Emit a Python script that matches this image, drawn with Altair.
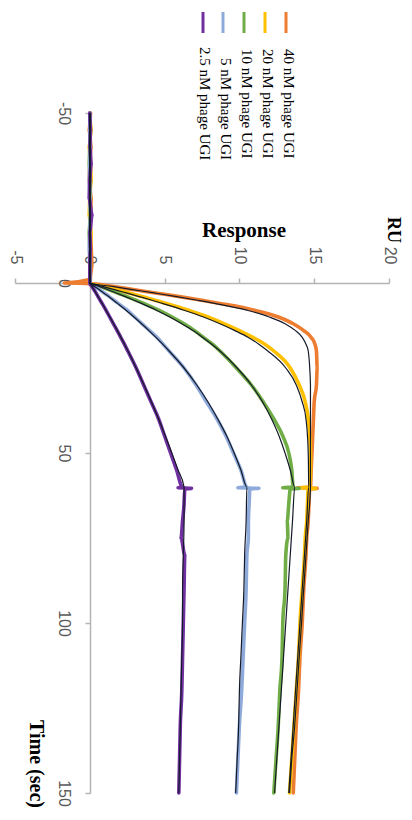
import altair as alt
import pandas as pd

# ---------------- data ----------------
series_names = ["40 nM phage UGI", "20 nM phage UGI", "10 nM phage UGI",
                "5 nM phage UGI", "2.5 nM phage UGI"]
series_colors = ["#ED7D31", "#FFC000", "#70AD47", "#8EAADB", "#7030A0"]

# measured sensorgram time points (sec)
time_data = [-50, -45, -40, -35, -30, -25, -20, -15, -10, -5, -1,
             0, 0.3,
             1, 2, 3, 4, 5, 6,
             8, 10, 12, 14, 16, 18, 20,
             25, 30, 35, 40, 45, 50, 55, 60,
             60.2, 60.4, 60.6,
             65, 70, 75, 80,
             90, 100, 110, 120, 130, 140, 150]

resp_40 = [0.05, -0.05, 0.1, 0.0, -0.05, 0.1, 0.05, 0.0, 0.1, 0.15, 0.0,
           -1.7, 0.4,
           1.5, 3.0, 4.5, 6.0, 7.4, 8.7,
           11.0, 12.6, 13.6, 14.3, 14.8, 15.05, 15.15,
           15.2, 15.15, 15.0, 14.95, 14.9, 14.85, 14.8, 14.75,
           13.9, 15.2, 14.7,
           14.65, 14.6, 14.5, 14.45,
           14.3, 14.2, 14.05, 13.95, 13.8, 13.7, 13.6]
resp_20 = [0.0, 0.1, -0.05, 0.05, 0.1, 0.0, -0.05, 0.1, 0.05, 0.0, 0.05,
           0.0, 0.1,
           0.9, 1.8, 2.7, 3.5, 4.3, 5.1,
           6.6, 7.9, 9.0, 10.0, 10.9, 11.7, 12.3,
           13.4, 14.0, 14.4, 14.6, 14.7, 14.75, 14.75, 14.7,
           14.1, 15.1, 14.6,
           14.55, 14.5, 14.4, 14.35,
           14.2, 14.05, 13.95, 13.8, 13.65, 13.5, 13.35]
resp_10 = [0.0, 0.05, 0.0, -0.05, 0.05, 0.0, 0.05, -0.05, 0.0, 0.05, 0.0,
           0.0, 0.05,
           0.65, 1.3, 1.9, 2.5, 3.05, 3.6,
           4.6, 5.5, 6.3, 7.0, 7.6, 8.2, 8.7,
           9.8, 10.8, 11.6, 12.3, 12.9, 13.3, 13.5, 13.6,
           12.9, 14.0, 13.4,
           13.3, 13.2, 13.25, 13.1,
           13.05, 12.9, 12.85, 12.7, 12.6, 12.45, 12.3]
resp_5 = [0.0, 0.0, 0.05, 0.0, -0.05, 0.0, 0.05, 0.0, -0.05, 0.0, 0.0,
          0.0, 0.03,
          0.33, 0.66, 0.98, 1.3, 1.6, 1.9,
          2.5, 3.0, 3.5, 4.0, 4.5, 4.9, 5.3,
          6.3, 7.1, 7.8, 8.5, 9.1, 9.6, 10.1, 10.5,
          9.9, 11.3, 10.7,
          10.65, 10.6, 10.6, 10.5,
          10.45, 10.35, 10.25, 10.15, 10.0, 9.9, 9.8]
resp_2_5 = [0.0, 0.05, 0.0, 0.1, 0.0, -0.05, 0.15, 0.0, 0.05, 0.0, 0.0,
            0.0, 0.02,
            0.14, 0.28, 0.42, 0.55, 0.68, 0.82,
            1.08, 1.33, 1.58, 1.83, 2.07, 2.31, 2.54,
            3.1, 3.6, 4.1, 4.6, 5.0, 5.4, 5.8, 6.2,
            5.9, 6.8, 6.35,
            6.3, 6.2, 6.1, 6.35,
            6.3, 6.25, 6.2, 6.15, 6.05, 6.0, 5.95]

# fitted curves (thin black lines)
time_fit = [-50, 0,
            1, 2, 3, 4, 5, 6,
            8, 10, 12, 14, 16, 18, 20,
            25, 30, 35, 40, 45, 50, 55, 60,
            70, 80, 90, 100, 110, 120, 130, 140, 150]
fit_40 = [0, 0,
          1.5, 2.95, 4.4, 5.8, 7.1, 8.35,
          10.5, 12.0, 13.05, 13.75, 14.2, 14.45, 14.6,
          14.7, 14.75, 14.75, 14.75, 14.75, 14.75, 14.75, 14.75,
          14.6, 14.45, 14.3, 14.15, 14.0, 13.85, 13.7, 13.5, 13.35]
fit_20 = [0, 0,
          0.85, 1.7, 2.5, 3.3, 4.1, 4.85,
          6.3, 7.6, 8.7, 9.7, 10.6, 11.3, 11.9,
          13.1, 13.8, 14.2, 14.45, 14.55, 14.6, 14.62, 14.63,
          14.5, 14.35, 14.2, 14.05, 13.9, 13.75, 13.6, 13.45, 13.3]
fit_10 = [0, 0,
          0.62, 1.22, 1.8, 2.37, 2.92, 3.45,
          4.45, 5.35, 6.15, 6.9, 7.55, 8.15, 8.7,
          9.85, 10.8, 11.55, 12.15, 12.65, 13.05, 13.4, 13.7,
          13.55, 13.4, 13.25, 13.1, 12.95, 12.8, 12.65, 12.5, 12.35]
fit_5 = [0, 0,
         0.32, 0.64, 0.95, 1.26, 1.56, 1.85,
         2.42, 2.95, 3.46, 3.95, 4.42, 4.87, 5.3,
         6.3, 7.15, 7.9, 8.55, 9.15, 9.65, 10.1, 10.5,
         10.45, 10.35, 10.3, 10.2, 10.1, 10.0, 9.95, 9.85, 9.75]
fit_2_5 = [0, 0,
           0.14, 0.28, 0.42, 0.55, 0.69, 0.82,
           1.08, 1.34, 1.59, 1.84, 2.08, 2.32, 2.55,
           3.1, 3.62, 4.12, 4.6, 5.05, 5.48, 5.9, 6.3,
           6.3, 6.25, 6.2, 6.2, 6.15, 6.1, 6.05, 6.0, 5.95]

resp_axis_ticks = [-5, 0, 5, 10, 15, 20]
time_axis_ticks = [-50, 0, 50, 100, 150]

data_lists = [resp_40, resp_20, resp_10, resp_5, resp_2_5]
fit_lists = [fit_40, fit_20, fit_10, fit_5, fit_2_5]

# ---------------- chart ----------------
W, H = 374, 680          # plot area
LABEL_FONT = "Liberation Sans"
SERIF = "Liberation Serif"
AX_COLOR = "#b4b4b4"

x_enc = alt.X(
    "resp:Q",
    scale=alt.Scale(domain=[-5, 20], nice=False, zero=False),
    axis=alt.Axis(orient="top", offset=-170, values=resp_axis_ticks, title=None,
                  grid=False, labelAngle=90, labelAlign="right", labelBaseline="middle",
                  labelPadding=14, tickSize=5, labelFlush=False, labelOverlap=False,
                  labelBound=False,
                  labelExpr="'' + datum.value", labelFont=LABEL_FONT, labelFontSize=16,
                  labelColor="#595959", domainColor=AX_COLOR, tickColor=AX_COLOR,
                  domainWidth=1.5, tickWidth=1.5),
)
y_enc = alt.Y(
    "time:Q",
    scale=alt.Scale(domain=[-50, 150], nice=False, zero=False, reverse=True),
    axis=alt.Axis(orient="left", offset=-75, values=time_axis_ticks, title=None,
                  grid=False, labelAngle=90, labelAlign="center", labelBaseline="top",
                  labelPadding=14, tickSize=5, labelFlush=False, labelOverlap=False,
                  labelBound=False,
                  labelExpr="'' + datum.value", labelFont=LABEL_FONT, labelFontSize=16,
                  labelColor="#595959", domainColor=AX_COLOR, tickColor=AX_COLOR,
                  domainWidth=1.5, tickWidth=1.5),
)

layers = []
for name, col, vals in zip(series_names, series_colors, data_lists):
    assert len(vals) == len(time_data), name
    df = pd.DataFrame({"time": time_data, "resp": vals, "series": name})
    layers.append(
        alt.Chart(df).mark_line(color=col, strokeWidth=3.6, strokeJoin="round",
                                strokeCap="round", interpolate="monotone")
        .encode(x=x_enc, y=y_enc, order="time:Q")
    )
for name, vals in zip(series_names, fit_lists):
    assert len(vals) == len(time_fit), name
    df = pd.DataFrame({"time": time_fit, "resp": vals, "series": name})
    layers.append(
        alt.Chart(df).mark_line(color="#151a28", strokeWidth=1.2, interpolate="monotone")
        .encode(x=x_enc, y=y_enc, order="time:Q")
    )

OX, OY = 15, 113   # page position of the plot-area origin


def text_layer(txt, px, py, size, angle=0, weight="normal", font=SERIF,
               align="center", baseline="middle", color="#000000"):
    return alt.Chart(pd.DataFrame({"k": [0]})).mark_text(
        text=txt, fontSize=size, angle=angle, fontWeight=weight, font=font,
        align=align, baseline=baseline, color=color
    ).encode(x=alt.value(px - OX), y=alt.value(py - OY))


def rule_layer(px, py1, py2, color, width=3):
    return alt.Chart(pd.DataFrame({"k": [0]})).mark_rule(
        color=color, strokeWidth=width
    ).encode(x=alt.value(px - OX), y=alt.value(py1 - OY), y2=alt.value(py2 - OY))


# legend (rotated like the rest of the figure)
leg_sym_x = [286, 265, 244, 223, 203]
leg_txt_x = [289, 268, 247, 226, 205]
leg_txt_y = [49, 49, 49, 58, 47]
for name, col, sx, tx, ty in zip(series_names, series_colors, leg_sym_x, leg_txt_x, leg_txt_y):
    layers.append(rule_layer(sx, 12, 33, col, 3))
    layers.append(text_layer(name, tx, ty, 15, angle=90, align="left"))

# axis titles
layers.append(text_layer("Response", 244, 231, 21, weight="bold"))
layers.append(text_layer("RU", 393, 230, 18, angle=90, weight="bold"))
layers.append(text_layer("Time (sec)", 36, 764, 20, angle=90, weight="bold"))

chart = alt.layer(*layers).properties(
    width=W, height=H,
    autosize=alt.AutoSizeParams(type="none"),
    padding={"left": 7, "top": 105, "right": 15, "bottom": 16},
).configure_view(strokeWidth=0)

chart.save("out.html", embed_options={"renderer": "svg", "actions": False})
